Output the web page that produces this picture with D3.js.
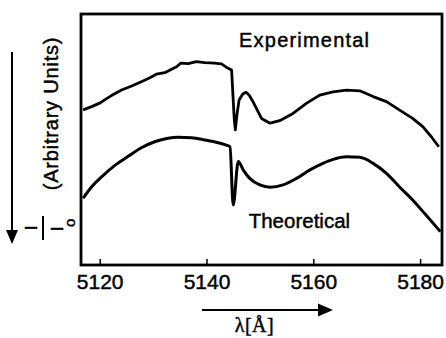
<!DOCTYPE html>
<html>
<head>
<meta charset="utf-8">
<script src="https://cdn.jsdelivr.net/npm/d3@7"></script>
<style>
    body { margin: 0; background: #fff; }
    text { font-family: "Liberation Sans", Arial, sans-serif; fill: #000; stroke: #000; stroke-width: 0.45px; }
</style>
</head>
<body>
<script>
// wavelength in Angstrom, intensity in arbitrary units (0 = bottom of frame, 100 = top)
var expWavelength = [5116.9, 5118.5, 5120.1, 5121.0, 5122.2, 5124.1, 5126.0, 5127.8, 5129.4, 5130.6,
    5132.2, 5133.1, 5134.4, 5135.2, 5136.6, 5138.1, 5139.7, 5141.5, 5142.8, 5143.7,
    5144.7, 5145.2, 5145.4, 5145.7, 5146.1, 5146.8, 5147.4, 5148.0, 5148.7, 5150.3,
    5151.9, 5153.7, 5156.2, 5158.7, 5161.2, 5163.7, 5166.2, 5168.7, 5171.2, 5173.7,
    5176.1, 5178.6, 5180.5, 5182.1, 5183.5];
var expIntensity = [61.8, 63.1, 64.6, 65.9, 67.5, 69.7, 71.3, 73.0, 74.6, 76.0,
    76.6, 77.6, 79.0, 80.4, 80.2, 81.0, 80.6, 80.4, 80.1, 78.8,
    77.7, 58.0, 53.8, 59.8, 65.7, 68.1, 68.8, 67.6, 65.1, 58.4,
    56.5, 57.5, 60.4, 64.4, 67.7, 69.0, 69.7, 69.4, 67.1, 65.1,
    61.8, 58.4, 55.1, 51.1, 47.1];

var theoWavelength = [5116.9, 5118.5, 5120.4, 5122.9, 5125.4, 5127.8, 5130.3, 5132.8, 5134.7, 5137.2,
    5139.7, 5142.2, 5143.7, 5144.4, 5145.0, 5145.95, 5146.9, 5148.1, 5150.0, 5151.9,
    5154.35, 5156.85, 5159.3, 5161.8, 5163.7, 5166.2, 5168.7, 5171.2, 5173.7, 5176.1,
    5178.6, 5181.1, 5183.8];
var theoIntensity = [26.6, 31.2, 35.2, 39.8, 43.4, 46.7, 49.1, 50.5, 50.9, 50.7,
    49.8, 48.7, 47.8, 47.1, 23.9, 41.2, 37.8, 34.5, 31.9, 31.0,
    31.9, 34.5, 37.8, 40.5, 42.1, 43.1, 42.9, 40.5, 36.5, 31.2,
    25.9, 19.9, 13.3];

var xTicks = [5120, 5140, 5160, 5180];
var xDomain = [5116.5, 5184.1];
var yDomain = [0, 100];

var labelText = ["Experimental", "Theoretical"];
var labelWavelength = [5146.1, 5147.9];
var labelIntensity = [86.9, 14.7];

(function(){

    var width = 446,
        height = 338;

    var margin = {left: 81, top: 14, right: 4, bottom: 73};

    window.onload = setChart();

    function setChart(){
        var svg = d3.select("body")
            .append("svg")
            .attr("width", width)
            .attr("height", height);

        var innerW = width - margin.left - margin.right,
            innerH = height - margin.top - margin.bottom;

        var x = d3.scaleLinear()
            .domain(xDomain)
            .range([margin.left, margin.left + innerW]);

        var y = d3.scaleLinear()
            .domain(yDomain)
            .range([margin.top + innerH, margin.top]);

        var line = d3.line()
            .x(function(d){ return x(d[0]); })
            .y(function(d){ return y(d[1]); });

        var expData = d3.zip(expWavelength, expIntensity),
            theoData = d3.zip(theoWavelength, theoIntensity);

        svg.append("path")
            .datum(expData)
            .attr("d", line.curve(d3.curveLinear))
            .attr("fill", "none")
            .attr("stroke", "#000")
            .attr("stroke-width", 2.8)
            .attr("stroke-linejoin", "round");

        svg.append("path")
            .datum(theoData)
            .attr("d", line.curve(d3.curveMonotoneX))
            .attr("fill", "none")
            .attr("stroke", "#000")
            .attr("stroke-width", 3)
            .attr("stroke-linejoin", "round");

        //frame
        svg.append("rect")
            .attr("x", margin.left)
            .attr("y", margin.top)
            .attr("width", innerW)
            .attr("height", innerH)
            .attr("fill", "none")
            .attr("stroke", "#000")
            .attr("stroke-width", 2.8);

        var xAxis = d3.axisBottom(x)
            .tickValues(xTicks)
            .tickFormat(d3.format("d"))
            .tickSizeInner(-6)
            .tickSizeOuter(0)
            .tickPadding(9);

        var gx = svg.append("g")
            .attr("transform", "translate(0," + (margin.top + innerH) + ")")
            .call(xAxis);
        gx.select(".domain").remove();
        gx.selectAll(".tick line").attr("stroke", "#000").attr("stroke-width", 1.5);
        gx.selectAll(".tick text")
            .attr("font-size", 21)
            .attr("font-family", "Liberation Sans, Arial, sans-serif")
            .attr("fill", "#000");

        //curve labels
        svg.selectAll(".curveLabel")
            .data(labelText)
            .enter()
            .append("text")
            .attr("class", "curveLabel")
            .attr("x", function(d, i){ return x(labelWavelength[i]); })
            .attr("y", function(d, i){ return y(labelIntensity[i]); })
            .attr("font-size", function(d, i){ return i == 0 ? 20 : 20.5; })
            .attr("letter-spacing", function(d, i){ return i == 0 ? 1.2 : 0; })
            .text(function(d){ return d; });

        setYLabel(svg);
        setXLabel(svg);
    };

    function setYLabel(svg){
        //down arrow on the far left
        svg.append("line")
            .attr("x1", 12).attr("y1", 52)
            .attr("x2", 12).attr("y2", 232)
            .attr("stroke", "#000")
            .attr("stroke-width", 2);
        svg.append("path")
            .attr("d", "M6,230 L18,230 L12,244 Z")
            .attr("fill", "#000");

        svg.append("text")
            .attr("transform", "translate(58,113.5) rotate(-90)")
            .attr("text-anchor", "middle")
            .attr("font-size", 20)
            .attr("letter-spacing", 0.8)
            .text("(Arbitrary Units)");

        //I / I_o fraction, rotated
        var frac = svg.append("g")
            .attr("transform", "translate(43,228) rotate(-90)");
        frac.append("text")
            .attr("x", 0).attr("y", -6)
            .attr("text-anchor", "middle")
            .attr("font-size", 17)
            .text("I");
        frac.append("line")
            .attr("x1", -12).attr("x2", 12)
            .attr("y1", 0).attr("y2", 0)
            .attr("stroke", "#000")
            .attr("stroke-width", 2);
        frac.append("text")
            .attr("x", -1).attr("y", 20)
            .attr("text-anchor", "middle")
            .attr("font-size", 17)
            .text("I");
        frac.append("text")
            .attr("x", 1).attr("y", 32)
            .attr("font-size", 15)
            .text("o");
    };

    function setXLabel(svg){
        svg.append("line")
            .attr("x1", 202).attr("y1", 310)
            .attr("x2", 320).attr("y2", 310)
            .attr("stroke", "#000")
            .attr("stroke-width", 2);
        svg.append("path")
            .attr("d", "M318,303.5 L333,310 L318,316.5 Z")
            .attr("fill", "#000");

        svg.append("text")
            .attr("x", 254.5)
            .attr("y", 332)
            .attr("text-anchor", "middle")
            .style("font-family", "'Liberation Serif', serif")
            .attr("font-size", 20)
            .attr("letter-spacing", 0.5)
            .text("λ[Å]");
    };

})();
</script>
</body>
</html>
